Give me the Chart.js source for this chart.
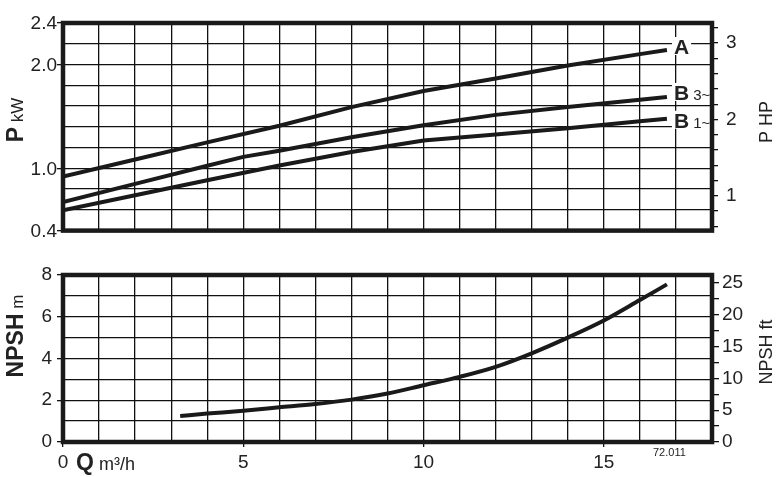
<!DOCTYPE html>
<html>
<head>
<meta charset="utf-8">
<script src="https://cdn.jsdelivr.net/npm/chart.js@4.4.1/dist/chart.umd.min.js"></script>
<style>
  body { margin: 0; background: #fff; }
  #wrap { position: relative; width: 779px; height: 477px; }
  canvas { position: absolute; left: 0; }
  #powerChart { top: 0; }
  #npshChart { top: 250px; }
</style>
</head>
<body>
<div id="wrap">
  <canvas id="powerChart" width="779" height="250"></canvas>
  <canvas id="npshChart" width="779" height="227"></canvas>
</div>
<script>
// curve A
const flowA  = [0, 2, 4, 6, 8, 10, 12, 14, 16, 16.75];
const powerA = [0.92, 1.085, 1.25, 1.41, 1.59, 1.745, 1.865, 1.99, 2.10, 2.14];
// curve B 3~
const flowB3  = [0, 2, 4, 5, 6, 8, 10, 12, 14, 16, 16.75];
const powerB3 = [0.675, 0.85, 1.025, 1.11, 1.17, 1.30, 1.415, 1.515, 1.59, 1.66, 1.688];
// curve B 1~
const flowB1  = [0, 2, 4, 6, 8, 10, 12, 14, 16, 16.75];
const powerB1 = [0.595, 0.74, 0.885, 1.027, 1.157, 1.267, 1.325, 1.385, 1.453, 1.478];
// NPSH
const flowNpsh = [3.25, 4, 5, 6, 7, 8, 9, 10, 11, 12, 13, 14, 15, 16, 16.75];
const npshM    = [1.25, 1.36, 1.50, 1.66, 1.82, 2.03, 2.32, 2.72, 3.12, 3.6, 4.25, 5.0, 5.82, 6.8, 7.55];

// axes
const qGrid   = [0,1,2,3,4,5,6,7,8,9,10,11,12,13,14,15,16,17,18];
const qLabels = [0, 5, 10, 15];
const kwGrid   = [0.4,0.6,0.8,1.0,1.2,1.4,1.6,1.8,2.0,2.2,2.4];
const kwLabels = [0.4, 1.0, 2.0, 2.4];
const hpTicks  = [0.6,0.8,1.0,1.2,1.4,1.6,1.8,2.0,2.2,2.4,2.6,2.8,3.0,3.2];
const hpLabels = [1, 2, 3];
const mGrid   = [0,1,2,3,4,5,6,7,8];
const mLabels = [0, 2, 4, 6, 8];
const ftTicks  = [0,2.5,5,7.5,10,12.5,15,17.5,20,22.5,25];
const ftLabels = [0, 5, 10, 15, 20, 25];
const curveNames = ['A', 'B', 'B'];
const curveSubs  = ['', '3~', '1~'];

const KW_PER_HP = 0.7355;
const FT_PER_M = 3.2808;
const INK = '#1a1a1a';
const GRID = '#111';
const FONT = "'Liberation Sans', Arial, Helvetica, sans-serif";

Chart.defaults.font.family = FONT;
Chart.defaults.color = '#222';

const near = (a, b) => Math.abs(a - b) < 1e-6;
const has = (list, v) => list.some(l => near(l, v));
const setTicks = vals => scale => { scale.ticks = vals.map(v => ({ value: v })); };
const labelOnly = (list, fmt) => v => has(list, v) ? fmt(v) : '';
const tickOnly = list => c => (c.tick && has(list, c.tick.value)) ? GRID : 'rgba(0,0,0,0)';
const pts = (xs, ys) => xs.map((x, i) => ({ x: x, y: ys[i] }));

function drawRuns(ctx, runs, x, y, rotate) {
  ctx.save();
  ctx.translate(x, y);
  if (rotate) ctx.rotate(-Math.PI / 2);
  let total = 0;
  runs.forEach(r => { ctx.font = r.font; total += ctx.measureText(r.text).width; });
  let cx = rotate ? -total / 2 : 0;
  ctx.fillStyle = '#222';
  ctx.textBaseline = 'alphabetic';
  runs.forEach(r => { ctx.font = r.font; ctx.fillText(r.text, cx, 0); cx += ctx.measureText(r.text).width; });
  ctx.restore();
}

const framePlugin = {
  id: 'frame',
  afterDraw(chart) {
    const { ctx, chartArea: a } = chart;
    ctx.save();
    ctx.lineWidth = 4.5;
    ctx.strokeStyle = INK;
    ctx.strokeRect(a.left, a.top, a.right - a.left, a.bottom - a.top);
    ctx.restore();
  }
};

const powerText = {
  id: 'powerText',
  afterDatasetsDraw(chart) {
    const ctx = chart.ctx;
    const dy = [-3, -4, 2];
    chart.data.datasets.forEach((ds, i) => {
      const last = ds.data[ds.data.length - 1];
      const x = chart.scales.x.getPixelForValue(last.x) + 7;
      const y = chart.scales.y.getPixelForValue(last.y) + dy[i];
      ctx.save();
      ctx.font = 'bold 21px ' + FONT;
      let w = ctx.measureText(curveNames[i]).width;
      ctx.font = '15px ' + FONT;
      w += curveSubs[i] ? ctx.measureText(' ' + curveSubs[i]).width : 0;
      ctx.fillStyle = '#fff';
      ctx.fillRect(x - 2, y - 10, w + 4, 18);
      ctx.restore();
      drawRuns(ctx, [
        { text: curveNames[i], font: 'bold 21px ' + FONT },
        { text: curveSubs[i] ? ' ' + curveSubs[i] : '', font: '15px ' + FONT }
      ], x, y + 7.5, false);
    });
  },
  afterDraw(chart) {
    const ctx = chart.ctx;
    // kW tick labels, placed on the y scale
    const ys = chart.scales.y;
    ctx.save();
    ctx.font = '19px ' + FONT;
    ctx.fillStyle = '#222';
    ctx.textAlign = 'right';
    ctx.textBaseline = 'middle';
    kwLabels.forEach(v => ctx.fillText(v.toFixed(1), ys.right - 6, ys.getPixelForValue(v) + 1));
    ctx.restore();
    drawRuns(ctx, [{ text: 'P', font: 'bold 23px ' + FONT }, { text: ' kW', font: '17px ' + FONT }], 23, 120, true);
    drawRuns(ctx, [{ text: 'P HP', font: '18px ' + FONT }], 772, 122, true);
  }
};

const npshText = {
  id: 'npshText',
  afterDraw(chart) {
    const ctx = chart.ctx;
    drawRuns(ctx, [{ text: 'NPSH', font: 'bold 23px ' + FONT }, { text: ' m', font: '17px ' + FONT }], 23, 86, true);
    drawRuns(ctx, [{ text: 'NPSH ft', font: '18px ' + FONT }], 772, 102, true);
    drawRuns(ctx, [{ text: 'Q', font: 'bold 23px ' + FONT }, { text: ' m³/h', font: '18px ' + FONT }], 76, 220, false);
    drawRuns(ctx, [{ text: '72.011', font: '11px ' + FONT }], 653, 206, false);
  }
};

const lineStyle = { borderColor: INK, borderWidth: 4, pointRadius: 0, fill: false };

new Chart(document.getElementById('powerChart'), {
  type: 'line',
  data: {
    datasets: [
      Object.assign({ data: pts(flowA, powerA), tension: 0 }, lineStyle),
      Object.assign({ data: pts(flowB3, powerB3), tension: 0 }, lineStyle),
      Object.assign({ data: pts(flowB1, powerB1), tension: 0 }, lineStyle)
    ]
  },
  options: {
    responsive: false,
    animation: false,
    layout: { padding: { top: 23 } },
    plugins: { legend: { display: false }, tooltip: { enabled: false } },
    scales: {
      x: {
        type: 'linear', min: 0, max: 18,
        afterBuildTicks: setTicks(qGrid),
        afterFit: s => { s.height = 18; },
        ticks: { display: false, autoSkip: false },
        grid: { color: GRID, lineWidth: 1.3, drawTicks: false },
        border: { display: false }
      },
      y: {
        position: 'left', min: 0.4, max: 2.4,
        afterBuildTicks: setTicks(kwGrid),
        afterFit: s => { s.width = 63; },
        ticks: { display: false, autoSkip: false },
        grid: { color: GRID, lineWidth: 1.3, tickLength: 6, tickColor: tickOnly(kwLabels) },
        border: { display: false }
      },
      hp: {
        position: 'right', min: 0.4 / KW_PER_HP, max: 2.4 / KW_PER_HP,
        afterBuildTicks: setTicks(hpTicks),
        afterFit: s => { s.width = 67; },
        ticks: { autoSkip: false, padding: 8, font: { size: 19 }, callback: labelOnly(hpLabels, v => String(Math.round(v))) },
        grid: { drawOnChartArea: false, color: GRID, lineWidth: 1.3, tickLength: 6 },
        border: { display: false }
      }
    }
  },
  plugins: [powerText, framePlugin]
});

new Chart(document.getElementById('npshChart'), {
  type: 'line',
  data: {
    datasets: [
      Object.assign({ data: pts(flowNpsh, npshM), cubicInterpolationMode: 'monotone' }, lineStyle)
    ]
  },
  options: {
    responsive: false,
    animation: false,
    layout: { padding: { top: 25 } },
    plugins: { legend: { display: false }, tooltip: { enabled: false } },
    scales: {
      x: {
        type: 'linear', min: 0, max: 18,
        afterBuildTicks: setTicks(qGrid),
        afterFit: s => { s.height = 35; },
        ticks: { autoSkip: false, maxRotation: 0, padding: 4, font: { size: 19 }, callback: labelOnly(qLabels, v => String(v)) },
        grid: { color: GRID, lineWidth: 1.3, tickLength: 5, tickColor: tickOnly(qLabels) },
        border: { display: false }
      },
      y: {
        position: 'left', min: 0, max: 8,
        afterBuildTicks: setTicks(mGrid),
        afterFit: s => { s.width = 63; },
        ticks: { autoSkip: false, padding: 5, font: { size: 19 }, callback: labelOnly(mLabels, v => String(v)) },
        grid: { color: GRID, lineWidth: 1.3, tickLength: 6, tickColor: tickOnly(mLabels) },
        border: { display: false }
      },
      ft: {
        position: 'right', min: 0, max: 8 * FT_PER_M,
        afterBuildTicks: setTicks(ftTicks),
        afterFit: s => { s.width = 67; },
        ticks: { autoSkip: false, padding: 3, font: { size: 19 }, callback: labelOnly(ftLabels, v => String(v)) },
        grid: { drawOnChartArea: false, color: GRID, lineWidth: 1.3, tickLength: 7 },
        border: { display: false }
      }
    }
  },
  plugins: [npshText, framePlugin]
});
</script>
</body>
</html>
